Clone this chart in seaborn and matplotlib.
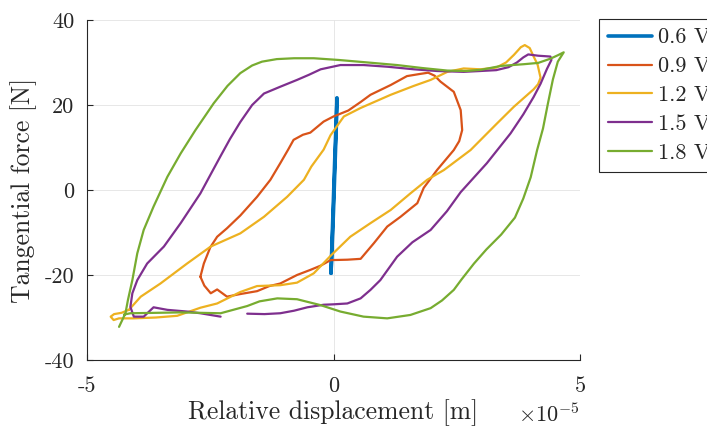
import matplotlib
matplotlib.use("Agg")
import pandas as pd
import matplotlib.pyplot as plt
import seaborn as sns

# Hysteresis loops: relative displacement (x 1e-5 m) vs tangential force (N)
voltages = ["0.6 V", "0.9 V", "1.2 V", "1.5 V", "1.8 V"]
colors = ["#0072BD", "#D95319", "#EDB120", "#7E2F8E", "#77AC30"]

x_06 = [-0.05, -0.03, -0.01, 0.01, 0.03, 0.05, 0.07, 0.06, 0.04, 0.02, 0.00, -0.02, -0.04, -0.05]
y_06 = [-19.6, -12.0, -5.0, 2.0, 9.0, 15.0, 21.7, 16.0, 9.0, 2.0, -5.0, -11.0, -16.5, -19.6]

x_09 = [-2.70, -2.63, -2.50, -2.36, -2.16, -1.89, -1.55, -1.28, -1.08, -0.92, -0.81, -0.62,
        -0.47, -0.20, 0.00, 0.30, 0.55, 0.75, 1.16, 1.49, 1.75, 1.92, 2.05, 2.17, 2.44, 2.58,
        2.61, 2.55, 2.44, 2.10, 1.83, 1.70, 1.36, 1.09, 0.82, 0.55, 0.28, -0.06, -0.26, -0.47,
        -0.74, -1.08, -1.30, -1.55, -1.90, -2.16, -2.36, -2.49, -2.62, -2.70]
y_09 = [-20.4, -17.3, -13.5, -11.0, -9.0, -6.0, -1.6, 2.4, 6.3, 9.5, 11.8, 13.0,
        13.5, 16.1, 17.3, 18.7, 20.7, 22.4, 24.7, 26.8, 27.3, 27.6, 26.9, 25.5, 23.1, 18.8,
        14.1, 11.5, 9.4, 4.7, 0.5, -3.1, -6.3, -8.6, -12.5, -16.2, -16.4, -16.5, -17.8, -18.8,
        -20.0, -22.0, -22.6, -23.8, -24.5, -25.1, -23.4, -24.3, -22.5, -20.4]

x_12 = [-4.15, -3.91, -3.51, -2.97, -2.49, -1.89, -1.41, -0.94, -0.60, -0.45, -0.20,
        -0.06, 0.21, 0.55, 1.16, 1.63, 1.97, 2.31, 2.64, 2.98, 3.30, 3.50, 3.66, 3.80, 3.88,
        3.98, 4.06, 4.14, 4.20, 4.15, 4.06, 3.66, 3.32, 2.78, 2.24, 1.90, 1.56, 1.16, 0.75,
        0.34, -0.06, -0.40, -0.74, -1.08, -1.55, -1.89, -2.36, -2.70, -3.17, -3.60, -4.05,
        -4.35, -4.46, -4.52, -4.45, -4.30, -4.15]
y_12 = [-28.2, -25.1, -22.0, -17.3, -13.3, -10.2, -6.3, -1.6, 2.4, 5.5, 9.5,
        12.9, 17.3, 19.3, 22.4, 24.5, 25.9, 27.8, 28.6, 28.4, 28.8, 30.0, 31.8, 33.6, 34.1,
        33.4, 31.4, 29.5, 26.4, 24.9, 23.7, 19.6, 15.7, 9.4, 4.7, 2.4, -0.8, -4.7, -7.8,
        -11.0, -15.5, -19.6, -21.8, -22.4, -22.6, -24.0, -26.7, -27.7, -29.6, -30.0, -30.2,
        -30.2, -30.6, -29.8, -29.2, -28.9, -28.2]

x_15 = [-1.75, -1.40, -1.08, -0.80, -0.53, -0.20, 0.00, 0.28, 0.55, 0.75, 0.95, 1.29, 1.60,
        1.97, 2.30, 2.58, 3.11, 3.59, 3.85, 4.06, 4.20, 4.33, 4.42, 4.40, 4.15, 3.95, 3.85,
        3.72, 3.55, 3.30, 2.98, 2.64, 2.10, 1.63, 1.10, 0.61, 0.14, -0.26, -0.50, -0.74,
        -1.08, -1.41, -1.65, -1.89, -2.10, -2.29, -2.50, -2.70, -3.10, -3.44, -3.78,
        -3.98, -4.08, -4.12, -4.05, -3.85, -3.65, -3.37, -2.97, -2.70, -2.29]
y_15 = [-29.1, -29.2, -29.0, -28.4, -27.6, -27.0, -26.9, -26.7, -25.5, -23.5, -21.2, -15.7,
        -12.3, -9.4, -5.0, -0.5, 6.3, 13.3, 17.8, 21.9, 25.0, 28.5, 30.6, 31.4, 31.6, 31.9,
        31.2, 30.0, 28.9, 28.2, 28.0, 27.8, 28.0, 28.4, 29.0, 29.4, 29.4, 28.4, 27.1, 25.9,
        24.3, 22.7, 20.0, 16.0, 12.0, 8.0, 3.5, -0.8, -7.8, -13.3, -17.3,
        -21.2, -24.3, -27.5, -29.8, -29.8, -27.6, -28.2, -28.6, -29.0, -29.8]

x_18 = [-4.35, -4.22, -4.17, -4.08, -3.98, -3.85, -3.65, -3.37, -3.10, -2.80, -2.60, -2.43,
        -2.15, -1.89, -1.65, -1.45, -1.15, -0.80, -0.40, 0.10, 0.70, 1.29, 1.80, 2.31, 2.70,
        3.00, 3.40, 3.86, 4.15, 4.40, 4.55, 4.67, 4.55, 4.45, 4.35, 4.25, 4.13, 4.00, 3.85,
        3.68, 3.40, 3.10, 2.85, 2.60, 2.44, 2.20, 1.97, 1.56, 1.09, 0.61, 0.14, -0.26, -0.74,
        -1.14, -1.50, -1.75, -2.29, -3.10, -3.60, -4.12, -4.25]
y_18 = [-32.2, -29.0, -25.9, -21.2, -14.9, -9.4, -3.9, 3.1, 8.6, 14.1, 17.5, 20.4,
        24.5, 27.5, 29.3, 30.2, 30.8, 31.0, 31.0, 30.6, 30.0, 29.4, 28.7, 28.1, 28.0,
        28.3, 29.2, 29.6, 29.9, 30.9, 31.7, 32.4, 30.2, 26.0, 20.4, 14.5, 9.4, 3.0, -2.0,
        -6.5, -10.5, -14.0, -17.3, -21.0, -23.5, -26.0, -27.8, -29.4, -30.2, -29.8, -28.6, -27.1, -25.7,
        -25.5, -26.2, -27.3, -29.0, -28.8, -28.9, -29.0, -29.3]

series_x = [x_06, x_09, x_12, x_15, x_18]
series_y = [y_06, y_09, y_12, y_15, y_18]
widths = [2.6, 1.6, 1.6, 1.6, 1.6]

frames = []
for v, xs, ys in zip(voltages, series_x, series_y):
    frames.append(pd.DataFrame({"disp": xs, "force": ys, "voltage": v}))
df = pd.concat(frames, ignore_index=True)

sns.set_theme(style="whitegrid", rc={
    "grid.color": "#e3e3e3",
    "grid.linewidth": 0.6,
    "axes.unicode_minus": False,
    "mathtext.fontset": "cm",
})
plt.rcParams["font.family"] = ["cmr10", "DejaVu Serif"]
plt.rcParams["axes.formatter.use_mathtext"] = True

fig = plt.figure(figsize=(7.07, 4.29), dpi=100)
ax = fig.add_axes([87 / 707, 1 - 360 / 429, 493 / 707, 340 / 429])

for v, c, lw in zip(voltages, colors, widths):
    sub = df[df["voltage"] == v]
    sns.lineplot(data=sub, x="disp", y="force", sort=False, estimator=None,
                 color=c, lw=lw, label=v, ax=ax)

ax.set_xlim(-5, 5)
ax.set_ylim(-40, 40)
ax.set_xticks([-5, 0, 5])
ax.set_yticks([-40, -20, 0, 20, 40])
ax.set_xticklabels(["-5", "0", "5"])
ax.set_yticklabels(["-40", "-20", "0", "20", "40"])
ax.tick_params(axis="both", which="both", direction="in", length=4, width=0.8,
               color="#262626", labelsize=16, labelcolor="#262626", pad=9,
               left=True, bottom=True)
ax.tick_params(axis="x", pad=12)

for s in ["top", "right"]:
    ax.spines[s].set_visible(False)
for s in ["left", "bottom"]:
    ax.spines[s].set_color("#262626")
    ax.spines[s].set_linewidth(0.8)

ax.set_xlabel("Relative displacement [m]", fontsize=18.5, color="#262626", labelpad=2)
ax.set_ylabel("Tangential force [N]", fontsize=18.5, color="#262626", labelpad=6)
ax.text(1.0, -0.125, r"$\times10^{-5}$", transform=ax.transAxes, ha="right", va="top",
        fontsize=16, color="#262626")

# legend sits outside the axes and runs past the right edge, as in the original
leg = ax.legend(loc="upper left", bbox_to_anchor=(599 / 707, 1 - 19 / 429),
                bbox_transform=fig.transFigure, fontsize=16, frameon=True,
                fancybox=False, framealpha=1, edgecolor="#262626",
                handlelength=2.0, handletextpad=0.25, labelspacing=0.42,
                borderpad=0.4, borderaxespad=0)
leg.get_frame().set_linewidth(0.8)
for t in leg.get_texts():
    t.set_color("#262626")

fig.savefig("out.png", dpi=100)
